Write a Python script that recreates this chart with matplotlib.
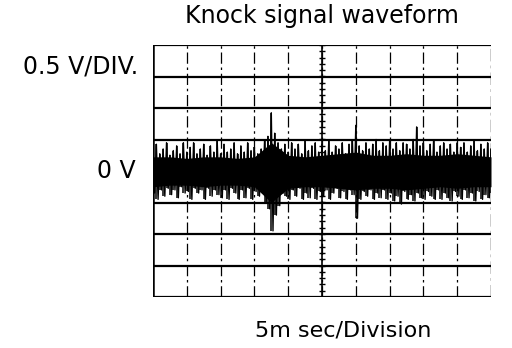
import numpy as np
import matplotlib.pyplot as plt

title = "Knock signal waveform"
volt_label = "0.5 V/DIV."
zero_label = "0 V"
time_label = "5m sec/Division"

n_div_x = 10
n_div_y = 8

# peaks of the trace, in divisions, one every 0.1 div
peak_up = [0.6, 0.85, 0.55, 0.7, 0.9, 0.5, 0.65, 0.8, 0.55, 0.9,
           0.6, 0.75, 0.9, 0.55, 0.7, 0.85, 0.5, 0.8, 0.6, 0.95,
           0.55, 0.85, 0.6, 0.7, 0.9, 0.55, 0.8, 0.6, 0.9, 0.65,
           0.75, 0.55, 0.7, 0.95, 1.1, 1.85, 1.2, 0.9, 0.7, 0.85,
           0.6, 0.9, 0.7, 0.85, 0.55, 0.95, 0.65, 0.8, 0.9, 0.6,
           0.85, 0.65, 0.95, 0.6, 0.8, 0.7, 0.9, 0.55, 0.85, 0.95,
           1.45, 0.8, 0.65, 0.9, 0.7, 0.85, 1.0, 0.65, 0.9, 0.8,
           0.95, 0.7, 0.9, 0.65, 0.9, 0.85, 0.7, 1.0, 1.4, 0.8,
           0.9, 0.65, 0.85, 0.95, 0.6, 0.8, 0.9, 0.7, 0.85, 0.6,
           0.9, 0.75, 0.9, 0.6, 0.8, 0.95, 0.65, 0.85, 0.7, 0.9, 0.7]
peak_down = [0.7, 0.9, 0.6, 0.8, 0.55, 0.75, 0.6, 0.85, 0.5, 0.7,
             0.65, 0.9, 0.55, 0.7, 0.6, 0.9, 0.55, 0.8, 0.6, 0.75,
             0.85, 0.6, 0.9, 0.55, 0.7, 0.9, 0.6, 0.85, 0.55, 0.9,
             0.65, 0.8, 0.6, 1.0, 1.2, 1.9, 1.4, 1.1, 0.7, 0.8,
             0.9, 0.6, 0.8, 0.55, 0.9, 0.7, 0.85, 0.55, 0.9, 0.65,
             0.8, 0.6, 0.9, 0.7, 0.55, 0.85, 0.65, 0.9, 0.6, 0.75,
             1.5, 0.9, 0.65, 0.8, 0.6, 0.9, 0.7, 0.85, 0.6, 0.9,
             0.7, 0.95, 0.8, 1.05, 0.65, 0.9, 0.75, 0.95, 0.7, 0.85,
             0.9, 0.65, 0.8, 0.9, 0.6, 0.9, 0.7, 0.85, 0.95, 0.65,
             0.8, 0.9, 0.6, 0.85, 0.7, 0.95, 0.65, 0.9, 0.75, 0.85, 0.7]

# solid core of the trace, one every 0.5 div
core_up = [0.45, 0.45, 0.4, 0.45, 0.45, 0.4, 0.45, 0.9, 0.5, 0.45, 0.5,
           0.55, 0.6, 0.5, 0.5, 0.55, 0.5, 0.5, 0.55, 0.5, 0.45]
core_down = [0.5, 0.45, 0.45, 0.5, 0.45, 0.45, 0.5, 1.0, 0.55, 0.5, 0.5,
             0.55, 0.6, 0.55, 0.55, 0.6, 0.55, 0.5, 0.55, 0.5, 0.5]

plt.rcParams['font.family'] = 'DejaVu Sans'
fig = plt.figure(figsize=(5.12, 3.48), dpi=100)
ax = fig.add_axes([153 / 512, 51 / 348, 338 / 512, 252 / 348])
ax.set_xlim(0, n_div_x)
ax.set_ylim(-n_div_y / 2, n_div_y / 2)
ax.axis('off')

# graticule
for y in range(-n_div_y // 2, n_div_y // 2 + 1):
    ax.axhline(y, color='black', lw=1.6, zorder=1)
for x in range(1, n_div_x):
    ax.axvline(x, color='black', lw=0.9, ls=(0, (9, 3, 2, 3)), zorder=1)
ax.axvline(0, color='black', lw=1.8, zorder=1)
ax.axvline(n_div_x, color='black', lw=1.0, ls=(0, (9, 3, 2, 3)), zorder=1)

# minor ticks on the centre line
ticks = np.arange(-n_div_y / 2, n_div_y / 2 + 0.01, 0.2)
ax.hlines(ticks, n_div_x / 2 - 0.1, n_div_x / 2 + 0.1, color='black', lw=1.0, zorder=1)
ax.axvline(n_div_x / 2, color='black', lw=1.2, zorder=1)

# trace
t_core = np.linspace(0, n_div_x, len(core_up))
ax.fill_between(t_core, -np.array(core_down), core_up, color='black', lw=0, zorder=2)

t_peak = np.linspace(0, n_div_x, len(peak_up))
step = t_peak[1] - t_peak[0]
tx = np.column_stack([t_peak, t_peak + step / 2]).ravel()
ty = np.column_stack([peak_up, -np.array(peak_down)]).ravel()
ax.plot(tx[:-1], ty[:-1], color='black', lw=1.0, zorder=3)
ax.vlines(t_peak, -np.array(peak_down), peak_up, color='black', lw=1.1, zorder=3)

fig.text(322 / 512, 1 - 16 / 348, title, fontsize=17, ha='center', va='center')
fig.text(138 / 512, 1 - 66 / 348, volt_label, fontsize=17, ha='right', va='center')
fig.text(136 / 512, 1 - 171 / 348, zero_label, fontsize=17, ha='right', va='center')
fig.text(343 / 512, 1 - 330 / 348, time_label, fontsize=16, ha='center', va='center')

fig.savefig('out.png', dpi=100)
